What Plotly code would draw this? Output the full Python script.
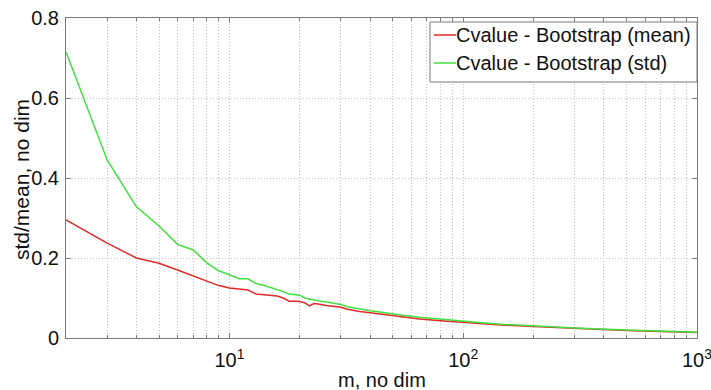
import plotly.graph_objects as go

# Sample size m and the bootstrap statistics of the coefficient of variation
m_values = [2, 3, 4, 5, 6, 7, 8, 9, 10, 11, 12, 13, 14, 15, 16, 17, 18, 19, 20,
            21, 22, 23, 24, 26, 28, 30, 32, 36, 40, 44, 50, 55, 65, 80, 100,
            120, 150, 200, 300, 500, 700, 1000]
cv_mean = [0.295, 0.237, 0.200, 0.187, 0.170, 0.155, 0.142, 0.131, 0.125, 0.123,
           0.120, 0.110, 0.108, 0.106, 0.105, 0.100, 0.092, 0.092, 0.091, 0.088,
           0.080, 0.086, 0.085, 0.081, 0.078, 0.077, 0.072, 0.066, 0.063, 0.060,
           0.055, 0.053, 0.0475, 0.043, 0.039, 0.036, 0.032, 0.029, 0.024, 0.019,
           0.0165, 0.014]
cv_std = [0.715, 0.445, 0.328, 0.280, 0.234, 0.220, 0.188, 0.168, 0.158, 0.148,
          0.148, 0.136, 0.132, 0.127, 0.121, 0.116, 0.110, 0.109, 0.107, 0.100,
          0.097, 0.095, 0.093, 0.090, 0.086, 0.084, 0.078, 0.072, 0.068, 0.065,
          0.060, 0.057, 0.052, 0.047, 0.042, 0.038, 0.034, 0.030, 0.025, 0.020,
          0.017, 0.0145]

series_names = ["Cvalue - Bootstrap (mean)", "Cvalue - Bootstrap (std)"]
series_colors = ["#e02a2a", "#3fe03f"]

# Decade ticks carry labels; the intermediate multiples get minor ticks and grid
x_major_vals = [10, 100, 1000]
x_major_text = ["10<sup>1</sup>", "10<sup>2</sup>", "10<sup>3</sup>"]
x_minor_vals = [k * 10 ** d for d in range(0, 3) for k in range(2, 10)]

y_tick_vals = [0, 0.2, 0.4, 0.6, 0.8]
y_tick_text = ["0", "0.2", "0.4", "0.6", "0.8"]

x_title = "m, no dim"
y_title = "std/mean, no dim"

# Figure geometry (pixels)
W, H = 711, 390
M_L, M_R, M_T, M_B = 66, 14, 18, 52
plot_w = W - M_L - M_R
plot_h = H - M_T - M_B


def px_to_paper_x(px):
    return (px - M_L) / plot_w


def px_to_paper_y(py):
    return (H - M_B - py) / plot_h


font_family = "Liberation Sans, Arial, sans-serif"
text_color = "#111111"
frame_color = "#7a7a7a"
grid_color = "#c4c4c4"
grid_dash = "1px,2px"

fig = go.Figure()
for name, ys, color in zip(series_names, [cv_mean, cv_std], series_colors):
    fig.add_trace(go.Scatter(x=m_values, y=ys, mode="lines", name=name,
                             line=dict(color=color, width=1.5), showlegend=False))

axis_common = dict(
    showline=True, linecolor=frame_color, linewidth=1, mirror="ticks",
    ticks="inside", ticklen=5, tickcolor=frame_color,
    showgrid=True, gridcolor=grid_color, griddash=grid_dash, gridwidth=1,
    zeroline=False, automargin=False, ticklabeloverflow="allow",
    tickfont=dict(family=font_family, size=20, color=text_color),
)

fig.update_xaxes(type="log", range=[0.30103, 3], tickmode="array",
                 tickvals=x_major_vals, ticktext=x_major_text,
                 ticklabelstandoff=4,
                 minor=dict(tickmode="array", tickvals=x_minor_vals,
                            ticks="inside", ticklen=3, tickcolor=frame_color,
                            showgrid=True, gridcolor=grid_color,
                            griddash=grid_dash, gridwidth=1),
                 **axis_common)
fig.update_yaxes(range=[0, 0.8], tickmode="array",
                 tickvals=y_tick_vals, ticktext=y_tick_text,
                 ticklabelstandoff=2,
                 **axis_common)

# Axis titles
annotations = [
    dict(text=x_title, xref="paper", yref="paper",
         x=0.5, y=px_to_paper_y(380), xanchor="center", yanchor="middle",
         showarrow=False, font=dict(family=font_family, size=20, color=text_color)),
    dict(text=y_title, xref="paper", yref="paper", textangle=-90,
         x=px_to_paper_x(21), y=px_to_paper_y(180), xanchor="center", yanchor="middle",
         showarrow=False, font=dict(family=font_family, size=21, color=text_color)),
]

# Legend box drawn in the upper right corner of the axes
leg_left, leg_right, leg_top, leg_bottom = 430, 697, 22, 82
row_centers = [35, 63]
swatch_x0, swatch_x1, text_x = 434, 456, 454
shapes = [dict(type="rect", xref="paper", yref="paper",
               x0=px_to_paper_x(leg_left), x1=px_to_paper_x(leg_right),
               y0=px_to_paper_y(leg_bottom), y1=px_to_paper_y(leg_top),
               line=dict(color=frame_color, width=1), fillcolor="white", layer="above")]
for name, color, yc in zip(series_names, series_colors, row_centers):
    shapes.append(dict(type="line", xref="paper", yref="paper",
                       x0=px_to_paper_x(swatch_x0), x1=px_to_paper_x(swatch_x1),
                       y0=px_to_paper_y(yc), y1=px_to_paper_y(yc),
                       line=dict(color=color, width=1.5), layer="above"))
    annotations.append(dict(text=name, xref="paper", yref="paper",
                            x=px_to_paper_x(text_x), y=px_to_paper_y(yc),
                            xanchor="left", yanchor="middle", showarrow=False,
                            font=dict(family=font_family, size=20, color=text_color)))

fig.update_layout(
    width=W, height=H,
    margin=dict(l=M_L, r=M_R, t=M_T, b=M_B),
    paper_bgcolor="white", plot_bgcolor="white",
    showlegend=False,
    shapes=shapes,
    annotations=annotations,
)

fig.write_html("out.html")
